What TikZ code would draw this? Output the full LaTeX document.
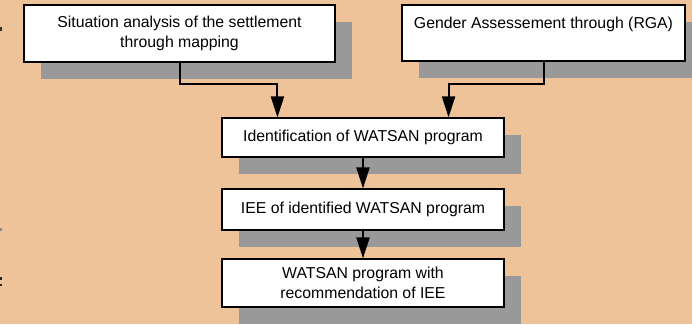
\documentclass[tikz,border=0pt]{standalone}
\usepackage{fontspec}
\setmainfont{Liberation Sans}
\usetikzlibrary{arrows.meta,shadows}
\definecolor{paper}{HTML}{EEC399}
\definecolor{shade}{HTML}{999999}
\tikzset{
  flowbox/.style={draw=black, line width=1.1pt, fill=white, align=center,
    inner sep=0pt, font=\fontsize{15.8}{19.5}\selectfont,
    general shadow={shadow xshift=17pt, shadow yshift=-17pt, fill=shade, draw=none}},
  flowarrow/.style={line width=2pt, -{Triangle[length=21pt,width=13pt]}},
}
\begin{document}
\begin{tikzpicture}[x=1pt,y=-1pt]
  \useasboundingbox (0,0) rectangle (692,324);
  \clip (0,0) rectangle (692,324);
  \fill[paper] (0,0) rectangle (692,324);

  % clipped text fragments at the left border
  \fill[black!80] (0,27) rectangle (2,31);
  \fill[black!45] (0,228) rectangle (1.5,231);
  \fill[black!85] (0,277) rectangle (2,279.5);
  \fill[black!85] (0,284) rectangle (2,286);

  % boxes
  \node[flowbox, minimum width=311pt, minimum height=57pt] (situation) at (179.5,33.5)
    {Situation analysis of the settlement\\through mapping};
  \node[flowbox, minimum width=283pt, minimum height=56pt] (gender) at (543.5,33)
    {Gender Assessement through (RGA)\\\mbox{}};
  \node[flowbox, minimum width=282pt, minimum height=39pt] (ident) at (363,137.5)
    {Identification of WATSAN program};
  \node[flowbox, minimum width=282pt, minimum height=41pt] (iee) at (363,209.5)
    {IEE of identified WATSAN program};
  \node[flowbox, minimum width=282pt, minimum height=48pt] (recom) at (363,283)
    {WATSAN program with\\recommendation of IEE};

  % connectors
  \draw[flowarrow] (situation.south) -- ++(0,21) -| ([xshift=56pt]ident.north west);
  \draw[flowarrow] (gender.south) -- ++(0,22) -| ([xshift=-56pt]ident.north east);
  \draw[flowarrow] (ident.south) -- (iee.north);
  \draw[flowarrow] (iee.south) -- (recom.north);
\end{tikzpicture}
\end{document}
